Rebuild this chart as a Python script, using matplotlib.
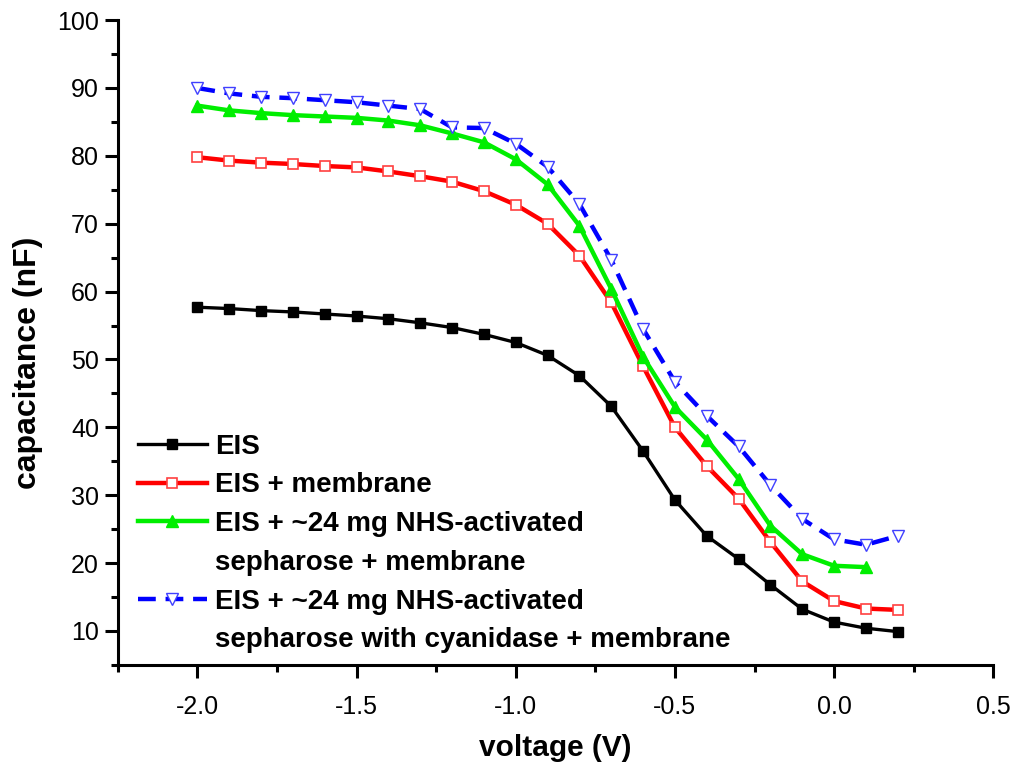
import matplotlib
matplotlib.use('Agg')
import matplotlib.pyplot as plt
from matplotlib.lines import Line2D
from matplotlib.ticker import MultipleLocator

plt.rcParams['font.family'] = ['Liberation Sans', 'DejaVu Sans']
plt.rcParams['axes.unicode_minus'] = False

# voltage (V)
voltage = [-2.0, -1.9, -1.8, -1.7, -1.6, -1.5, -1.4, -1.3, -1.2, -1.1, -1.0, -0.9,
           -0.8, -0.7, -0.6, -0.5, -0.4, -0.3, -0.2, -0.1, 0.0, 0.1, 0.2]
voltage_green = voltage[:-1]

# capacitance (nF)
eis = [57.7, 57.5, 57.2, 57.0, 56.7, 56.4, 56.0, 55.4, 54.7, 53.7, 52.5, 50.6,
       47.6, 43.1, 36.5, 29.3, 24.0, 20.6, 16.8, 13.2, 11.3, 10.4, 9.9]
eis_membrane = [79.8, 79.3, 79.0, 78.8, 78.5, 78.3, 77.7, 77.0, 76.2, 74.8, 72.8, 70.0,
                65.3, 58.4, 49.0, 40.0, 34.3, 29.5, 23.1, 17.3, 14.4, 13.3, 13.1]
eis_sepharose = [87.4, 86.7, 86.3, 86.0, 85.8, 85.6, 85.2, 84.5, 83.3, 82.0, 79.5, 75.8,
                 69.7, 60.4, 50.4, 43.0, 38.2, 32.4, 25.5, 21.3, 19.6, 19.4]
eis_cyanidase = [90.0, 89.2, 88.7, 88.5, 88.2, 87.9, 87.4, 86.9, 84.2, 84.1, 81.8, 78.4,
                 72.9, 64.7, 54.5, 46.7, 41.7, 37.2, 31.5, 26.5, 23.5, 22.7, 24.0]

labels = ['EIS', 'EIS + membrane', 'EIS + ~24 mg NHS-activated', 'sepharose + membrane',
          'EIS + ~24 mg NHS-activated', 'sepharose with cyanidase + membrane']

fig = plt.figure(figsize=(10.24, 7.74), dpi=100)
ax = fig.add_axes([0.115, 0.141, 0.855, 0.833])

l1, = ax.plot(voltage, eis, '-', color='black', lw=2.4, marker='s', ms=6.5,
              mfc='black', mec='black')
l2, = ax.plot(voltage, eis_membrane, '-', color='#ff0000', lw=3.2, marker='s', ms=7,
              mfc='white', mec='#ff4040', mew=1.2)
l3, = ax.plot(voltage_green, eis_sepharose, '-', color='#00ee00', lw=3.2, marker='^', ms=8.5,
              mfc='#00ee00', mec='#00ee00')
l4, = ax.plot(voltage, eis_cyanidase, color='#0000ff', lw=3.2, dashes=(4, 2.2), marker='v',
              ms=8.5, mfc='white', mec='#4040ff', mew=1.0)
blank = Line2D([], [], color='none')

# second line of the long labels is a blank entry so handles stay on the first line
ax.legend([l1, l2, l3, blank, l4, blank], labels, loc='upper left',
          bbox_to_anchor=(0.01, 0.376), frameon=False, borderaxespad=0,
          handlelength=2.5, handletextpad=0.3, labelspacing=0.46, numpoints=1,
          prop={'weight': 'bold', 'size': 20})

ax.set_xlim(-2.25, 0.5)
ax.set_ylim(5, 100)
ax.xaxis.set_minor_locator(MultipleLocator(0.25))
ax.yaxis.set_minor_locator(MultipleLocator(5))
ax.set_xticks([-2.0, -1.5, -1.0, -0.5, 0.0, 0.5])
ax.set_xticklabels(['-2.0', '-1.5', '-1.0', '-0.5', '0.0', '0.5'])
ax.set_yticks(range(10, 101, 10))

for s in ['top', 'right']:
    ax.spines[s].set_visible(False)
for s in ['left', 'bottom']:
    ax.spines[s].set_linewidth(2.2)

ax.tick_params(which='major', direction='out', length=9.5, width=2.2, labelsize=18)
ax.tick_params(which='minor', direction='out', length=5, width=2.2)
ax.tick_params(axis='x', which='major', pad=12)
ax.tick_params(axis='y', which='major', pad=4)

ax.set_xlabel('voltage (V)', fontsize=21.5, fontweight='bold')
ax.set_ylabel('capacitance (nF)', fontsize=23, fontweight='bold')
ax.xaxis.set_label_coords(0.5, -0.108)
ax.yaxis.set_label_coords(-0.085, 0.468)

fig.savefig('out.png', dpi=100)
